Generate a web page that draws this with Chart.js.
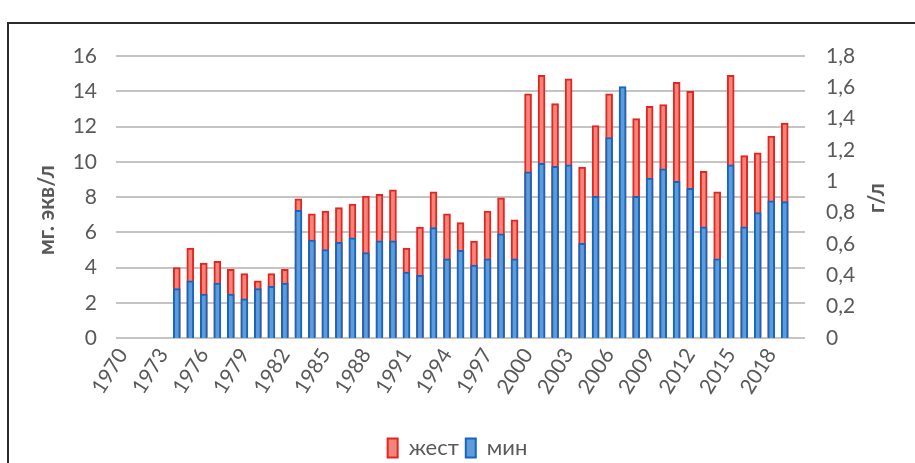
<!DOCTYPE html>
<html>
<head>
<meta charset="utf-8">
<script src="https://cdn.jsdelivr.net/npm/chart.js@4/dist/chart.umd.min.js"></script>
<style>
html,body{margin:0;padding:0;background:#fff;}
#wrap{width:915px;height:463px;position:relative;}
</style>
</head>
<body>
<div id="wrap"><canvas id="c" width="915" height="463"></canvas></div>
<script>
// Categories (years) 1970..2020
const years = ['1970','1971','1972','1973','1974','1975','1976','1977','1978','1979',
  '1980','1981','1982','1983','1984','1985','1986','1987','1988','1989',
  '1990','1991','1992','1993','1994','1995','1996','1997','1998','1999',
  '2000','2001','2002','2003','2004','2005','2006','2007','2008','2009',
  '2010','2011','2012','2013','2014','2015','2016','2017','2018','2019','2020'];

// жест, мг-экв/л (left axis)
const zhest = [null,null,null,null,
  4.0,5.1,4.25,4.35,3.9,3.65,
  3.25,3.65,3.9,7.9,7.05,7.2,7.4,7.6,8.05,8.15,
  8.4,5.1,6.3,8.3,7.05,6.55,5.5,7.2,7.95,6.7,
  13.85,14.9,13.3,14.7,9.7,12.05,13.85,14.0,12.45,13.15,
  13.25,14.5,14.0,9.45,8.3,14.9,10.35,10.5,11.45,12.2,null];

// мин, г/л (right axis)
const mineral = [null,null,null,null,
  0.315,0.365,0.28,0.35,0.28,0.25,
  0.315,0.33,0.35,0.815,0.625,0.565,0.61,0.64,0.545,0.62,
  0.62,0.42,0.40,0.705,0.505,0.56,0.465,0.505,0.665,0.505,
  1.06,1.115,1.095,1.105,0.605,0.905,1.28,1.605,0.905,1.02,
  1.08,1.0,0.955,0.71,0.505,1.105,0.71,0.80,0.875,0.87,null];

const leftTicks = [0,2,4,6,8,10,12,14,16];
const rightTicks = [0,0.2,0.4,0.6,0.8,1,1.2,1.4,1.6,1.8];

const leftTitle = 'мг. экв/л';
const rightTitle = 'г/л';
const seriesNames = ['жест','мин'];

const TXT = '#595959';
const FONT = 'Lato, "Open Sans", sans-serif';

const framePlugin = {
  id: 'frame',
  beforeDraw(chart){
    const ctx = chart.ctx;
    ctx.save();
    ctx.fillStyle = '#fff';
    ctx.fillRect(0,0,chart.width,chart.height);
    ctx.strokeStyle = '#2b2b2b';
    ctx.lineWidth = 2;
    ctx.beginPath();
    ctx.moveTo(8, chart.height);
    ctx.lineTo(8, 23);
    ctx.lineTo(chart.width, 23);
    ctx.stroke();
    ctx.restore();
  },
  afterDraw(chart){
    const ctx = chart.ctx;
    ctx.save();
    ctx.fillStyle = TXT;
    ctx.font = 'bold 22px ' + FONT;
    ctx.textAlign = 'center';
    ctx.textBaseline = 'middle';
    ctx.translate(47, 210);
    ctx.rotate(-Math.PI/2);
    ctx.fillText(leftTitle, 0, 0);
    ctx.restore();
    ctx.save();
    ctx.fillStyle = TXT;
    ctx.font = 'bold 22px ' + FONT;
    ctx.textAlign = 'center';
    ctx.textBaseline = 'middle';
    ctx.translate(877, 198);
    ctx.rotate(-Math.PI/2);
    ctx.fillText(rightTitle, 0, 0);
    ctx.restore();
  }
};

new Chart(document.getElementById('c'), {
  type: 'bar',
  data: {
    labels: years,
    datasets: [
      {
        label: seriesNames[0],
        data: zhest,
        yAxisID: 'y',
        grouped: false,
        order: 2,
        backgroundColor: '#f2857b',
        borderColor: '#e3261f',
        borderWidth: 2,
        barThickness: 7
      },
      {
        label: seriesNames[1],
        data: mineral,
        yAxisID: 'y1',
        grouped: false,
        order: 1,
        backgroundColor: '#5d9bd9',
        borderColor: '#1766bd',
        borderWidth: 2,
        barThickness: 7
      }
    ]
  },
  options: {
    responsive: false,
    animation: false,
    layout: { padding: { left: 0, right: 0, top: 56, bottom: -6 } },
    plugins: {
      tooltip: { enabled: false },
      legend: {
        position: 'bottom',
        labels: {
          sort: (a,b) => a.datasetIndex - b.datasetIndex,
          boxWidth: 10,
          boxHeight: 19,
          padding: 7,
          color: TXT,
          font: { family: FONT, size: 22 }
        }
      }
    },
    scales: {
      x: {
        offset: true,
        grid: { display: false, drawTicks: false },
        border: { display: false },
        ticks: {
          autoSkip: false,
          minRotation: 58,
          maxRotation: 58,
          padding: 6,
          color: TXT,
          font: { family: FONT, size: 21 },
          callback: function(v, i){ return (i % 3 === 0 && i <= 48) ? years[i] : ''; }
        },
        afterFit: (s) => { s.height = 92; }
      },
      y: {
        position: 'left',
        min: 0, max: 16,
        afterBuildTicks: (s) => { s.ticks = leftTicks.map(v => ({value: v})); },
        grid: { color: '#c4c4c4', lineWidth: 2, drawTicks: false },
        border: { display: false },
        ticks: {
          padding: 19,
          color: TXT,
          font: { family: FONT, size: 21 }
        },
        afterFit: (s) => { s.width = 116; }
      },
      y1: {
        position: 'right',
        min: 0, max: 1.8,
        afterBuildTicks: (s) => { s.ticks = rightTicks.map(v => ({value: v})); },
        grid: { display: false, drawTicks: false },
        border: { display: false },
        ticks: {
          padding: 21,
          color: TXT,
          font: { family: FONT, size: 21 },
          callback: (v) => String(Math.round(v*10)/10).replace('.', ',')
        },
        afterFit: (s) => { s.width = 110; }
      }
    }
  },
  plugins: [framePlugin]
});
</script>
</body>
</html>
